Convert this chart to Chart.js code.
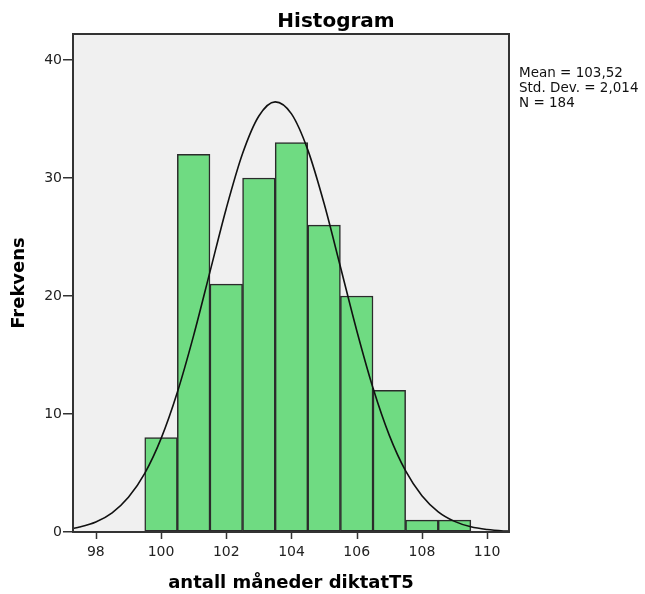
<!DOCTYPE html>
<html>
<head>
<meta charset="utf-8">
<script src="https://cdn.jsdelivr.net/npm/chart.js@4"></script>
<style>
  body { margin: 0; background: #fff; }
  #wrap { width: 645px; height: 594px; }
</style>
</head>
<body>
<div id="wrap"><canvas id="myChart" width="645" height="594"></canvas></div>
<script>
// histogram bins (bin centre) and counts
const binCentres = [100, 101, 102, 103, 104, 105, 106, 107, 108, 109];
const counts = [8, 32, 21, 30, 33, 26, 20, 12, 1, 1];

// normal curve
const curveX = [97.3, 97.5, 98, 98.5, 99, 99.5, 100, 100.5, 101, 101.5, 102, 102.5, 103, 103.5,
  104, 104.5, 105, 105.5, 106, 106.5, 107, 107.5, 108, 108.5, 109, 109.5, 110, 110.5, 110.67];
const curveY = [0.31, 0.42, 0.85, 1.63, 2.94, 4.97, 7.91, 11.84, 16.66, 22.04, 27.42, 32.07, 35.25, 36.45,
  35.43, 32.38, 27.83, 22.48, 17.08, 12.2, 8.19, 5.17, 3.07, 1.71, 0.9, 0.44, 0.21, 0.09, 0.07];

const xTicks = [98, 100, 102, 104, 106, 108, 110];
const yTicks = [0, 10, 20, 30, 40];
const statsLines = ['Mean = 103,52', 'Std. Dev. = 2,014', 'N = 184'];

const fontFam = '"DejaVu Sans", Verdana, sans-serif';
const ctx = document.getElementById('myChart');

const spssBox = {
  id: 'spssBox',
  beforeDatasetsDraw(chart) {
    const a = chart.chartArea;
    const c = chart.ctx;
    c.save();
    c.fillStyle = '#f0f0f0';
    c.fillRect(a.left, a.top, a.right - a.left, a.bottom - a.top);
    c.restore();
  },
  afterDraw(chart) {
    const a = chart.chartArea;
    const c = chart.ctx;
    const xs = chart.scales.x;
    c.save();
    c.strokeStyle = '#333';
    c.lineWidth = 2;
    c.strokeRect(a.left, a.top, a.right - a.left, a.bottom - a.top);
    // x tick marks
    c.lineWidth = 1.5;
    c.beginPath();
    xTicks.forEach(v => {
      const px = Math.round(xs.getPixelForValue(v)) + 0.5;
      c.moveTo(px, a.bottom);
      c.lineTo(px, a.bottom + 7);
    });
    c.stroke();
    c.fillStyle = '#000';
    c.font = 'bold 20px ' + fontFam;
    c.textAlign = 'center';
    c.textBaseline = 'alphabetic';
    c.fillText('Histogram', 336, 27);
    c.font = '13.5px ' + fontFam;
    c.textAlign = 'left';
    c.fillStyle = '#111';
    for (let i = 0; i < statsLines.length; i++) {
      c.fillText(statsLines[i], 519, 77 + i * 15);
    }
    c.restore();
  }
};

new Chart(ctx, {
  type: 'bar',
  data: {
    datasets: [{
      type: 'line',
      data: curveX.map((x, i) => ({ x: x, y: curveY[i] })),
      borderColor: '#111',
      borderWidth: 1.6,
      pointRadius: 0,
      cubicInterpolationMode: 'monotone',
      fill: false,
      order: 0
    }, {
      type: 'bar',
      data: binCentres.map((x, i) => ({ x: x, y: counts[i] })),
      backgroundColor: '#6fdb82',
      borderColor: '#2b2b2b',
      borderWidth: 1.5,
      borderSkipped: false,
      barPercentage: 1,
      categoryPercentage: 1,
      order: 1
    }]
  },
  options: {
    responsive: false,
    animation: false,
    layout: { padding: { top: 34, right: 136, bottom: 0, left: 9 } },
    plugins: { legend: { display: false }, tooltip: { enabled: false } },
    scales: {
      x: {
        type: 'linear',
        min: 97.3,
        max: 110.67,
        offset: false,
        afterBuildTicks(scale) { scale.ticks = xTicks.map(v => ({ value: v })); },
        afterFit(scale) { scale.height = 62; },
        ticks: { autoSkip: false, maxRotation: 0, padding: 5, color: '#222',
          font: { family: fontFam, size: 14 } },
        grid: { offset: false, display: true, drawOnChartArea: false, drawTicks: true, tickLength: 7, color: 'rgba(0,0,0,0)' },
        border: { display: true, color: '#333', width: 2 },
        title: { display: true, text: 'antall måneder diktatT5', color: '#000',
          padding: { top: 0, bottom: 0 },
          font: { family: fontFam, size: 18, weight: 'bold' } }
      },
      y: {
        min: 0,
        max: 42.2,
        afterBuildTicks(scale) { scale.ticks = yTicks.map(v => ({ value: v })); },
        afterFit(scale) { scale.width = 64; },
        ticks: { autoSkip: false, padding: 1, color: '#222',
          font: { family: fontFam, size: 14 } },
        grid: { drawOnChartArea: false, drawTicks: true, tickLength: 10, color: '#333', lineWidth: 1.5 },
        border: { display: true, color: '#333', width: 2 },
        title: { display: true, text: 'Frekvens', color: '#000',
          padding: { top: 0, bottom: 0 },
          font: { family: fontFam, size: 18, weight: 'bold' } }
      }
    }
  },
  plugins: [spssBox]
});
</script>
</body>
</html>
